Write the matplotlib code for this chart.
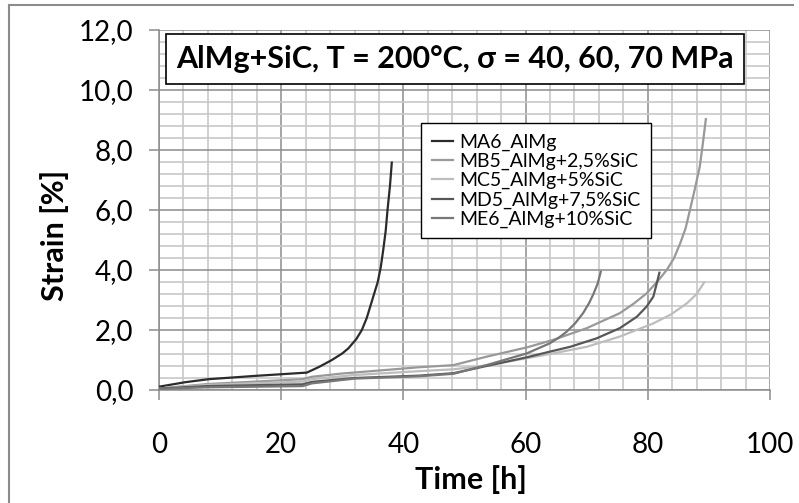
import matplotlib
matplotlib.use("Agg")
import matplotlib.pyplot as plt
from matplotlib.patches import Rectangle
from matplotlib.lines import Line2D
from matplotlib.ticker import MultipleLocator

plt.rcParams['font.family'] = ['Lato', 'DejaVu Sans']

# creep curves, time [h] and strain [%]
ma6_t = [0, 4.3, 8.1, 15.7, 24.2, 26.2, 28.3, 30.0, 31.0, 32.3, 33.2, 34.0, 34.6, 35.2, 35.8,
         36.3, 36.7, 37.1, 37.4, 37.8, 38.1]
ma6_e = [0.11, 0.26, 0.36, 0.47, 0.58, 0.77, 1.0, 1.22, 1.39, 1.7, 2.0, 2.4, 2.8, 3.2, 3.6,
         4.1, 4.67, 5.3, 6.0, 6.8, 7.58]

mb5_t = [0, 8, 23.5, 25, 30, 42.7, 48.2, 53.6, 60.2, 64.5, 70.0, 75.4, 77.7, 79.8, 81.5, 83.1,
         84.3, 85.3, 86.2, 86.9, 87.7, 88.5, 89.0, 89.5]
mb5_e = [0.05, 0.2, 0.36, 0.44, 0.55, 0.76, 0.83, 1.11, 1.42, 1.67, 2.06, 2.56, 2.88, 3.22, 3.6, 4.0,
         4.4, 4.89, 5.4, 6.0, 6.7, 7.44, 8.2, 9.03]

mc5_t = [0, 8, 23.5, 25, 32, 42.7, 48.2, 53.6, 60.2, 64.5, 70.0, 75.4, 80.9, 83.8, 86.4, 88.0, 89.2]
mc5_e = [0.05, 0.17, 0.28, 0.36, 0.5, 0.63, 0.69, 0.82, 1.06, 1.22, 1.44, 1.78, 2.22, 2.52, 2.89, 3.2, 3.58]

md5_t = [0, 8, 23.5, 25, 32, 42.7, 48.2, 53.6, 60.2, 64.0, 67.3, 71.6, 75.4, 78.2, 79.8, 80.9, 81.4, 81.9]
md5_e = [0.05, 0.13, 0.19, 0.27, 0.4, 0.48, 0.56, 0.80, 1.09, 1.28, 1.44, 1.72, 2.06, 2.44, 2.78, 3.11, 3.5, 3.91]

me6_t = [0, 8, 23.5, 25, 32, 42.7, 48.2, 53.6, 60.2, 64.0, 65.4, 66.7, 68.1, 69.4, 70.4, 71.1, 71.8, 72.3]
me6_e = [0.04, 0.09, 0.13, 0.22, 0.38, 0.46, 0.54, 0.83, 1.22, 1.56, 1.74, 1.94, 2.22, 2.56, 2.9, 3.2, 3.55, 3.94]

labels = ['MA6_AlMg', 'MB5_AlMg+2,5%SiC', 'MC5_AlMg+5%SiC', 'MD5_AlMg+7,5%SiC', 'ME6_AlMg+10%SiC']
colors = ['#2b2b2b', '#999999', '#bdbdbd', '#575757', '#777777']

x_ticks = [0, 20, 40, 60, 80, 100]
y_ticks = [0, 2, 4, 6, 8, 10, 12]
y_tick_labels = ['0,0', '2,0', '4,0', '6,0', '8,0', '10,0', '12,0']

W, H = 799, 503
fig = plt.figure(figsize=(W / 100, H / 100), dpi=100)
ax = fig.add_axes([159 / W, 1 - 390 / H, (770 - 159) / W, (390 - 30) / H])

series = [(ma6_t, ma6_e), (mb5_t, mb5_e), (mc5_t, mc5_e), (md5_t, md5_e), (me6_t, me6_e)]
for (t, e), lab, c in zip(series, labels, colors):
    ax.plot(t, e, color=c, lw=1.6, label=lab, zorder=3, solid_joinstyle='round')

ax.set_xlim(0, 100)
ax.set_ylim(0, 12)
ax.set_xticks(x_ticks)
ax.set_xticklabels([str(v) for v in x_ticks])
ax.set_yticks(y_ticks)
ax.set_yticklabels(y_tick_labels)
ax.xaxis.set_minor_locator(MultipleLocator(4))
ax.yaxis.set_minor_locator(MultipleLocator(0.4))
ax.grid(which='major', color='#8c8c8c', lw=1.1)
ax.grid(which='minor', color='#c8c8c8', lw=1.2)
ax.set_axisbelow(True)
for s in ['top', 'right']:
    ax.spines[s].set_visible(False)
for s in ['left', 'bottom']:
    ax.spines[s].set_color('#8c8c8c')
    ax.spines[s].set_linewidth(1.1)
ax.tick_params(which='major', direction='out', length=7.5, width=1.1, color='#8c8c8c',
               labelsize=20)
ax.tick_params(axis='x', pad=23)
ax.tick_params(axis='y', pad=11)
ax.tick_params(which='minor', length=0)

fig.text(471 / W, 1 - 480 / H, 'Time [h]', ha='center', va='center', fontsize=22, fontweight='bold')
fig.text(55 / W, 1 - 235 / H, 'Strain [%]', ha='center', va='center', rotation=90,
         fontsize=22, fontweight='bold')

# title box
fig.add_artist(Rectangle((166 / W, 1 - 84 / H), (744 - 166) / W, 50 / H, transform=fig.transFigure,
                         facecolor='white', edgecolor='black', lw=1.2, zorder=4))
fig.text(455 / W, 1 - 59 / H, 'AlMg+SiC, T = 200°C, σ = 40, 60, 70 MPa', ha='center', va='center',
         fontsize=22, fontweight='bold', zorder=5)

leg = ax.legend(loc='upper left', bbox_to_anchor=(421 / W, 1 - 123 / H), bbox_transform=fig.transFigure,
                fontsize=14, frameon=True, fancybox=False, edgecolor='black', framealpha=1,
                handlelength=1.1, handletextpad=0.3, labelspacing=0.1, borderpad=0.55,
                borderaxespad=0)
leg.get_frame().set_linewidth(1.0)

# outer chart frame
fig.add_artist(Line2D([9 / W, 793 / W], [1 - 5 / H, 1 - 5 / H], transform=fig.transFigure,
                      color='#8c8c8c', lw=1.5))
fig.add_artist(Line2D([9 / W, 9 / W], [1 - 5 / H, 0], transform=fig.transFigure,
                      color='#8c8c8c', lw=1.5))

fig.savefig('out.png', dpi=100)
